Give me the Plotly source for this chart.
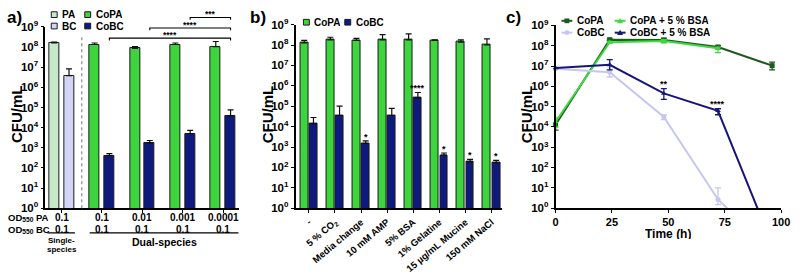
import math
import plotly.graph_objects as go

FONT = "Liberation Sans, Arial, Helvetica, sans-serif"
W, H = 800, 274

# ---------------- data ----------------
# panel a
a_single_names = ["PA", "BC"]
a_single_vals = [1.6e8, 3.8e6]
a_single_errtop = [1.75e8, 8.4e6]
a_od_pa_single = "0.1"
a_od_bc_single = "0.1"
a_od_pa = ["0.1", "0.01", "0.001", "0.0001"]
a_od_bc = ["0.1", "0.1", "0.1", "0.1"]
a_copa = [1.35e8, 8.7e7, 1.35e8, 1.04e8]
a_copa_errtop = [1.6e8, 1.07e8, 1.6e8, 1.9e8]
a_cobc = [410, 1700, 5100, 3.8e4]
a_cobc_errtop = [520, 2300, 7400, 7.7e4]
a_brackets = [(0, 3, "****", 31.7), (1, 3, "****", 21.0), (2, 3, "***", 10.0)]

# panel b
b_conditions = ["-", "5 % CO<sub>2</sub>", "Media change", "10 mM AMP", "5% BSA",
                "1% Gelatine", "15 µg/mL Mucine", "150 mM NaCl"]
b_copa = [1.26e8, 1.8e8, 1.7e8, 1.8e8, 1.8e8, 1.7e8, 1.4e8, 1.0e8]
b_copa_errtop = [1.7e8, 2.4e8, 2.1e8, 3.2e8, 3.5e8, 1.8e8, 1.8e8, 2.0e8]
b_cobc = [1.4e4, 3.5e4, 1500, 3.5e4, 2.5e5, 400, 185, 165]
b_cobc_errtop = [2.8e4, 1.0e5, 2000, 7.9e4, 4.7e5, 510, 250, 220]
b_sig = ["", "", "*", "", "****", "*", "*", "*"]

# panel c
c_time = [0, 24, 48, 72, 96]
c_copa = [1.3e4, 2.0e8, 1.9e8, 8.7e7, 1.05e7]
c_copa_ep = [9e3, 2e7, 5e7, 1.5e7, 5e6]
c_copa_em = [6e3, 2e7, 4e7, 1.5e7, 4e6]
c_copabsa = [1.8e4, 1.5e8, 1.7e8, 7.6e7, None]
c_copabsa_ep = [1e4, 1.5e7, 3e7, 1e7, 0]
c_copabsa_em = [8e3, 1.5e7, 3e7, 3e7, 0]
c_cobc = [7.4e6, 5.0e6, 3.1e4, 2.7, 0.007]
c_cobc_ep = [5e5, 4.5e6, 8e3, 7.3, 0]
c_cobc_em = [5e5, 2.1e6, 8e3, 1.2, 0]
c_cobcbsa = [8e6, 1.15e7, 4.5e5, 6.3e4, 0.0166]
c_cobcbsa_ep = [2e5, 9.5e6, 3.3e5, 1.6e4, 0]
c_cobcbsa_em = [2e5, 5e6, 2.2e5, 2.3e4, 0]
c_sig = ["", "", "**", "****", ""]

# colours
C_PA = "#c8e8cc"
C_BC = "#d4d4f6"
C_COPA = "#3dd43d"
C_COBC = "#0f1a7e"
C_L_COPA = "#1e5a1e"
C_L_COPABSA = "#3fd83f"
C_L_COBC = "#c6c6f2"
C_L_COBCBSA = "#16167a"
EDGE = "#1a1a1a"


def px(x):
    return x / W


def py(y):
    return 1 - y / H


fig = go.Figure()

ERR = dict(type="data", symmetric=False, color="#111111", thickness=1.2, width=3)


def err_up(vals, tops):
    return dict(ERR, array=[t - v for v, t in zip(vals, tops)], arrayminus=[0] * len(vals))


# ---------------- panel a ----------------
A_OFF, A_W = 0.183, 0.244
fig.add_trace(go.Bar(x=[-1 - A_OFF], y=[a_single_vals[0]], width=A_W, name="PA",
                     marker=dict(color=C_PA, line=dict(color=EDGE, width=1)),
                     error_y=err_up(a_single_vals[:1], a_single_errtop[:1]),
                     xaxis="x", yaxis="y", showlegend=False))
fig.add_trace(go.Bar(x=[-1 + A_OFF], y=[a_single_vals[1]], width=A_W, name="BC",
                     marker=dict(color=C_BC, line=dict(color=EDGE, width=1)),
                     error_y=err_up(a_single_vals[1:], a_single_errtop[1:]),
                     xaxis="x", yaxis="y", showlegend=False))
gx = list(range(len(a_copa)))
fig.add_trace(go.Bar(x=[g - A_OFF for g in gx], y=a_copa, width=A_W, name="CoPA",
                     marker=dict(color=C_COPA, line=dict(color=EDGE, width=1)),
                     error_y=err_up(a_copa, a_copa_errtop),
                     xaxis="x", yaxis="y", showlegend=False))
fig.add_trace(go.Bar(x=[g + A_OFF for g in gx], y=a_cobc, width=A_W, name="CoBC",
                     marker=dict(color=C_COBC, line=dict(color=EDGE, width=1)),
                     error_y=err_up(a_cobc, a_cobc_errtop),
                     xaxis="x", yaxis="y", showlegend=False))

# ---------------- panel b ----------------
B_OFF, B_W = 0.177, 0.30
bx = list(range(len(b_conditions)))
fig.add_trace(go.Bar(x=[g - B_OFF for g in bx], y=b_copa, width=B_W, name="CoPA",
                     marker=dict(color=C_COPA, line=dict(color=EDGE, width=1)),
                     error_y=err_up(b_copa, b_copa_errtop),
                     xaxis="x2", yaxis="y2", showlegend=False))
fig.add_trace(go.Bar(x=[g + B_OFF for g in bx], y=b_cobc, width=B_W, name="CoBC",
                     marker=dict(color=C_COBC, line=dict(color=EDGE, width=1)),
                     error_y=err_up(b_cobc, b_cobc_errtop),
                     xaxis="x2", yaxis="y2", showlegend=False))

# ---------------- panel c ----------------
series_c = [
    ("CoPA", c_copa, c_copa_ep, c_copa_em, C_L_COPA, "square"),
    ("CoPA + 5 % BSA", c_copabsa, c_copabsa_ep, c_copabsa_em, C_L_COPABSA, "triangle-up"),
    ("CoBC", c_cobc, c_cobc_ep, c_cobc_em, C_L_COBC, "circle"),
    ("CoBC + 5 % BSA", c_cobcbsa, c_cobcbsa_ep, c_cobcbsa_em, C_L_COBCBSA, "triangle-up"),
]
for name, vals, ep, em, col, sym in series_c:
    fig.add_trace(go.Scatter(x=c_time, y=vals, mode="lines", name=name,
                             line=dict(color=col, width=2), xaxis="x3", yaxis="y3",
                             showlegend=False))
    keep = [i for i, v in enumerate(vals) if v is not None and v >= 1]
    fig.add_trace(go.Scatter(x=[c_time[i] for i in keep], y=[vals[i] for i in keep],
                             mode="markers", name=name, cliponaxis=False,
                             marker=dict(color=col, size=5, symbol=sym),
                             error_y=dict(type="data", symmetric=False,
                                          array=[ep[i] for i in keep],
                                          arrayminus=[em[i] for i in keep],
                                          color=col, thickness=1.3, width=3),
                             xaxis="x3", yaxis="y3", showlegend=False))

# ---------------- axes ----------------
tickvals = [10 ** k for k in range(10)]
ticktext = ["10<sup>%d</sup>" % k for k in range(10)]
TF = dict(family=FONT, size=11.5, color="black", weight="bold")
yax = dict(type="log", range=[0, 9], tickvals=tickvals, ticktext=ticktext, tickfont=TF,
           showline=True, linecolor="black", linewidth=1.6, ticks="outside", ticklen=3,
           tickwidth=1.3, tickcolor="black", showgrid=False, zeroline=False)
xax = dict(showline=True, linecolor="black", linewidth=1.6, ticks="outside", ticklen=3,
           tickwidth=1.3, tickcolor="black", showgrid=False, zeroline=False)

Y0 = py(211)
fig.update_layout(
    width=W, height=H, margin=dict(l=0, r=0, t=0, b=0),
    paper_bgcolor="white", plot_bgcolor="white",
    barmode="overlay", bargap=0,
    font=dict(family=FONT, color="black"),
    xaxis=dict(xax, domain=[px(43), px(240)], range=[-1.402, 3.402],
               tickvals=[-1, 0, 1, 2, 3], showticklabels=False),
    yaxis=dict(yax, domain=[Y0, py(20)], anchor="x"),
    xaxis2=dict(xax, domain=[px(297), px(507)], range=[-0.509, 7.415],
                tickvals=bx, ticktext=b_conditions, tickangle=-40,
                tickfont=dict(family=FONT, size=9.5, color="black", weight="bold"),
                anchor="y2"),
    yaxis2=dict(yax, domain=[Y0, py(17.5)], anchor="x2"),
    xaxis3=dict(xax, domain=[px(561), px(790)], range=[0, 100],
                tickvals=[0, 25, 50, 75, 100],
                tickfont=dict(family=FONT, size=11, color="black", weight="bold"),
                anchor="y3"),
    yaxis3=dict(yax, domain=[Y0, py(18.4)], anchor="x3"),
)

ann = []
shapes = []


def text(x, y, s, size=10, xanchor="center", yanchor="middle", angle=0, xref="paper",
         yref="paper", weight="bold", yshift=0, height=None):
    a = dict(x=x, y=y, xref=xref, yref=yref, text=s, showarrow=False,
             xanchor=xanchor, yanchor=yanchor, textangle=angle, yshift=yshift,
             font=dict(family=FONT, size=size, color="black", weight=weight))
    if height:
        a["height"] = height
    ann.append(a)


# panel letters
text(px(2), py(9.5), "a)", size=17, xanchor="left")
text(px(249), py(9.5), "b)", size=17, xanchor="left")
text(px(509), py(9.5), "c)", size=17, xanchor="left")

# axis titles
text(px(13), py(112), "CFU/mL", size=15, angle=-90)
text(px(268), py(112), "CFU/mL", size=15, angle=-90)
text(px(531), py(112), "CFU/mL", size=15, angle=-90)
text(px(675), py(238.5), "Time (h)", size=12, height=10)

# panel a OD labels
text(px(3), py(221), "OD<sub>550</sub> PA", size=9.5, xanchor="left", height=11)
text(px(3), py(233), "OD<sub>550</sub> BC", size=9.5, xanchor="left", height=11)
text(-1, py(221), a_od_pa_single, size=10, xref="x", height=11)
text(-1, py(233), a_od_bc_single, size=10, xref="x", height=11)
for g, (p, b) in enumerate(zip(a_od_pa, a_od_bc)):
    text(g, py(221), p, size=10, xref="x", height=11)
    text(g, py(233), b, size=10, xref="x", height=11)
shapes.append(dict(type="line", xref="x", yref="paper", x0=-1.354, x1=-0.67,
                   y0=py(237), y1=py(237), line=dict(color="black", width=1.3)))
shapes.append(dict(type="line", xref="x", yref="paper", x0=-0.305, x1=3.378,
                   y0=py(237), y1=py(237), line=dict(color="black", width=1.3)))
text(-1, py(245), "Single-", size=8, xref="x", height=9)
text(-1, py(254), "species", size=8, xref="x", height=9)
text(1.54, py(246.5), "Dual-species", size=10.5, xref="x")

# dotted separator in panel a
shapes.append(dict(type="line", xref="x", yref="paper", x0=-0.5, x1=-0.5,
                   y0=py(211), y1=py(30), line=dict(color="#888888", width=1.2, dash="dot")))

# significance brackets panel a
for g1, g2, s, ypx in a_brackets:
    x1, x2 = g1 + A_OFF, g2 + A_OFF
    shapes.append(dict(type="path", xref="x", yref="paper",
                       path="M %f,%f L %f,%f L %f,%f L %f,%f" % (
                           x1, py(ypx + 2.5), x1, py(ypx), x2, py(ypx), x2, py(ypx + 2.5)),
                       line=dict(color="black", width=1.1)))
    text((x1 + x2) / 2, py(ypx), s, size=8.5, xref="x", yanchor="bottom", yshift=-3,
         height=9)

# significance panel b
for g, (s, top) in enumerate(zip(b_sig, b_cobc_errtop)):
    if s:
        text(g + B_OFF, math.log10(top), s, size=9, xref="x2", yref="y2",
             yanchor="bottom", yshift=-3)

# significance panel c
for t, s, v, ep in zip(c_time, c_sig, c_cobcbsa, c_cobcbsa_ep):
    if s:
        text(t, math.log10(v + ep), s, size=9, xref="x3", yref="y3",
             yanchor="bottom", yshift=-2)


# ---------------- custom legends ----------------
def box(x0, yc, col):
    shapes.append(dict(type="rect", xref="paper", yref="paper",
                       x0=px(x0), x1=px(x0 + 6), y0=py(yc + 3), y1=py(yc - 3),
                       fillcolor=col, line=dict(color=EDGE, width=1)))


box(49, 7, C_PA); text(px(58), py(7), "PA", size=10, xanchor="left", height=9)
box(49, 19, C_BC); text(px(58), py(19), "BC", size=10, xanchor="left", height=9)
box(83, 7, C_COPA); text(px(92), py(7), "CoPA", size=10, xanchor="left", height=9)
box(83, 19, C_COBC); text(px(92), py(19), "CoBC", size=10, xanchor="left", height=9)
box(305, 15, C_COPA); text(px(314), py(15), "CoPA", size=10, xanchor="left", height=9)
box(347, 15, C_COBC); text(px(356), py(15), "CoBC", size=10, xanchor="left", height=9)


def line_item(x0, yc, col, sym, label):
    shapes.append(dict(type="line", xref="paper", yref="paper", x0=px(x0), x1=px(x0 + 11),
                       y0=py(yc), y1=py(yc), line=dict(color=col, width=2)))
    cx = x0 + 5.5
    if sym == "square":
        shapes.append(dict(type="rect", xref="paper", yref="paper", x0=px(cx - 2.5),
                           x1=px(cx + 2.5), y0=py(yc + 2.5), y1=py(yc - 2.5),
                           fillcolor=col, line=dict(width=0)))
    elif sym == "circle":
        shapes.append(dict(type="circle", xref="paper", yref="paper", x0=px(cx - 2.5),
                           x1=px(cx + 2.5), y0=py(yc + 2.5), y1=py(yc - 2.5),
                           fillcolor=col, line=dict(width=0)))
    else:
        shapes.append(dict(type="path", xref="paper", yref="paper",
                           path="M %f,%f L %f,%f L %f,%f Z" % (
                               px(cx - 3), py(yc + 2.5), px(cx + 3), py(yc + 2.5),
                               px(cx), py(yc - 3)),
                           fillcolor=col, line=dict(width=0)))
    text(px(x0 + 14), py(yc), label, size=10, xanchor="left", height=9)


line_item(567, 13.5, C_L_COPA, "square", "CoPA")
line_item(567, 26, C_L_COBC, "circle", "CoBC")
line_item(621, 13.5, C_L_COPABSA, "triangle-up", "CoPA + 5 % BSA")
line_item(621, 26, C_L_COBCBSA, "triangle-up", "CoBC + 5 % BSA")

fig.update_layout(annotations=ann, shapes=shapes)
fig.write_html("out.html", config={"displayModeBar": False},
               post_script="document.body.style.margin='0';"
                           "document.body.style.overflow='hidden';")
